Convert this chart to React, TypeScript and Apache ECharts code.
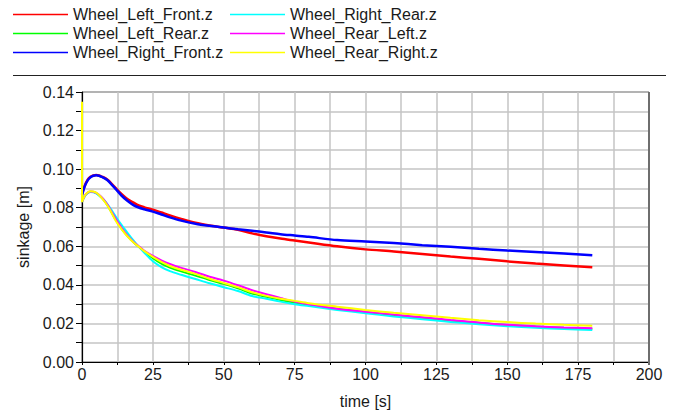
import React, { useEffect, useRef } from "react";
import * as echarts from "echarts";

const times = [0, 1, 2, 3, 4, 5, 6, 7, 8, 9, 10, 12, 14, 16, 18, 20, 22, 25, 28, 31, 35, 40, 45, 50, 55, 60, 65, 70, 75, 80, 90, 100, 110, 120, 130, 140, 150, 160, 170, 180];

const wheelLeftFront = [0.087, 0.0915, 0.0945, 0.096, 0.0967, 0.0969, 0.0967, 0.0961, 0.0955, 0.0945, 0.0932, 0.09, 0.087, 0.0845, 0.0828, 0.0812, 0.0802, 0.079, 0.0775, 0.076, 0.0742, 0.0722, 0.0708, 0.0697, 0.0686, 0.0667, 0.0652, 0.064, 0.063, 0.062, 0.06, 0.0584, 0.0573, 0.056, 0.0547, 0.0535, 0.0522, 0.0511, 0.0501, 0.0491];
const wheelLeftRear = [0.083, 0.0862, 0.0877, 0.0883, 0.0882, 0.0876, 0.0865, 0.0851, 0.0834, 0.0812, 0.0787, 0.0735, 0.069, 0.0654, 0.0623, 0.0597, 0.0572, 0.0538, 0.051, 0.049, 0.047, 0.0448, 0.0425, 0.0405, 0.0382, 0.0355, 0.0338, 0.0322, 0.0308, 0.0297, 0.0276, 0.0259, 0.0243, 0.0229, 0.0215, 0.0203, 0.0192, 0.0184, 0.0177, 0.0172];
const wheelRightFront = [0.0865, 0.0912, 0.0942, 0.0958, 0.0966, 0.0968, 0.0966, 0.096, 0.0952, 0.0942, 0.0928, 0.0895, 0.0862, 0.0836, 0.0815, 0.0801, 0.0792, 0.078, 0.0765, 0.075, 0.0733, 0.0717, 0.0706, 0.0697, 0.0688, 0.068, 0.0672, 0.0663, 0.0656, 0.0649, 0.0632, 0.0625, 0.0617, 0.0606, 0.0597, 0.0587, 0.0578, 0.057, 0.0562, 0.0554];
const wheelRightRear = [0.083, 0.086, 0.0876, 0.0882, 0.088, 0.0874, 0.0864, 0.0852, 0.0837, 0.0818, 0.0797, 0.0752, 0.071, 0.0671, 0.0633, 0.0598, 0.0566, 0.0522, 0.0492, 0.0471, 0.0452, 0.043, 0.0408, 0.0388, 0.0368, 0.0342, 0.0328, 0.0313, 0.03, 0.029, 0.027, 0.0253, 0.0236, 0.0222, 0.0208, 0.0196, 0.0186, 0.0178, 0.0171, 0.0166];
const wheelRearLeft = [0.083, 0.0862, 0.0878, 0.0884, 0.0883, 0.0877, 0.0867, 0.0853, 0.0836, 0.0815, 0.079, 0.074, 0.0695, 0.0657, 0.0625, 0.06, 0.0577, 0.055, 0.0527, 0.0508, 0.0488, 0.0467, 0.0442, 0.0422, 0.0398, 0.0372, 0.0352, 0.0332, 0.0313, 0.03, 0.0276, 0.0261, 0.0246, 0.0232, 0.0218, 0.0205, 0.0193, 0.0185, 0.0179, 0.0175];
const wheelRearRight = [0.083, 0.0863, 0.0879, 0.0885, 0.0884, 0.0878, 0.0866, 0.085, 0.0832, 0.081, 0.0785, 0.073, 0.0688, 0.0652, 0.0622, 0.0598, 0.0575, 0.0545, 0.0519, 0.0498, 0.0478, 0.0457, 0.0432, 0.041, 0.0388, 0.0362, 0.0343, 0.0328, 0.0317, 0.0305, 0.0287, 0.027, 0.0255, 0.0242, 0.0229, 0.0217, 0.0207, 0.0199, 0.0193, 0.0188];
const rearRightStartSpike = 0.135;

const seriesNames = [
  "Wheel_Left_Front.z",
  "Wheel_Left_Rear.z",
  "Wheel_Right_Front.z",
  "Wheel_Right_Rear.z",
  "Wheel_Rear_Left.z",
  "Wheel_Rear_Right.z",
];
const seriesValues = [wheelLeftFront, wheelLeftRear, wheelRightFront, wheelRightRear, wheelRearLeft, wheelRearRight];
const seriesColors = ["#ff0000", "#00ff00", "#0000ff", "#00ffff", "#ff00ff", "#ffff00"];
const seriesWidths = [2.5, 2, 2.5, 2, 2, 2];

const FONT = "'Liberation Sans', Arial, sans-serif";
const GRID_COLOR = "#c4c4c4";

export default function App() {
  const ref = useRef<HTMLDivElement>(null);
  useEffect(() => {
    document.body.style.margin = "0";
    const chart = echarts.init(ref.current!, null, { renderer: "svg" });
    const series = seriesNames.map((name, i) => {
      const pts: [number, number][] = times.map((t, j) => [t, seriesValues[i][j]]);
      if (i === 5) pts.unshift([0, rearRightStartSpike]);
      return {
        name,
        type: "line",
        data: pts,
        showSymbol: false,
        symbol: "none",
        smooth: 0.3,
        color: seriesColors[i],
        itemStyle: { color: seriesColors[i] },
        lineStyle: { width: seriesWidths[i], color: seriesColors[i] },
        z: 3,
      };
    });
    const legendCommon = {
      orient: "vertical",
      top: 6,
      padding: 0,
      itemGap: 2,
      itemWidth: 55,
      itemHeight: 1.5,
      icon: "rect",
      textStyle: { fontFamily: FONT, fontSize: 16, color: "#1a1a1a", lineHeight: 17 },
      itemStyle: { borderWidth: 0 },
      lineStyle: { width: 1 },
      selectedMode: false,
    };
    chart.setOption({
      animation: false,
      backgroundColor: "#ffffff",
      legend: [
        { ...legendCommon, left: 13, data: seriesNames.slice(0, 3) },
        { ...legendCommon, left: 230, data: seriesNames.slice(3, 6) },
      ],
      graphic: [
        {
          type: "line",
          shape: { x1: 13, y1: 75.5, x2: 666, y2: 75.5 },
          style: { stroke: "#222", lineWidth: 1.2 },
        },
        {
          type: "line",
          shape: { x1: 649, y1: 92, x2: 649, y2: 365 },
          style: { stroke: "#6e6e6e", lineWidth: 2 },
          z: 10,
        },
      ],
      grid: { show: true, borderColor: "#000", borderWidth: 1, left: 82, right: 35, top: 92, bottom: 49, containLabel: false },
      xAxis: {
        type: "value",
        min: 0,
        max: 200,
        interval: 12.5,
        name: "time [s]",
        nameLocation: "middle",
        nameGap: 31,
        nameTextStyle: { fontFamily: FONT, fontSize: 16, color: "#1a1a1a" },
        axisLine: { show: true, onZero: false, lineStyle: { color: "#000", width: 1.2 } },
        axisTick: { show: true, inside: false, length: 3, lineStyle: { color: "#000" } },
        axisLabel: {
          fontFamily: FONT,
          fontSize: 16,
          color: "#1a1a1a",
          margin: 4,
          formatter: (v: number) => (v % 25 === 0 ? String(v) : ""),
        },
        splitLine: { show: true, lineStyle: { color: GRID_COLOR, width: 1.5 } },
      },
      yAxis: {
        type: "value",
        min: 0,
        max: 0.14,
        interval: 0.01,
        name: "sinkage [m]",
        nameLocation: "middle",
        nameGap: 46,
        nameTextStyle: { fontFamily: FONT, fontSize: 16, color: "#1a1a1a" },
        axisLine: { show: true, onZero: false, lineStyle: { color: "#000", width: 1.2 } },
        axisTick: { show: true, inside: false, length: 6, lineStyle: { color: "#000" } },
        axisLabel: {
          fontFamily: FONT,
          fontSize: 16,
          color: "#1a1a1a",
          margin: 8,
          formatter: (v: number) => (Math.round(v * 100) % 2 === 0 ? v.toFixed(2) : ""),
        },
        splitLine: { show: true, lineStyle: { color: GRID_COLOR, width: 1.5 } },
      },
      series,
    });
    return () => chart.dispose();
  }, []);
  return <div ref={ref} style={{ position: "absolute", left: 0, top: 0, width: 684, height: 414 }} />;
}
